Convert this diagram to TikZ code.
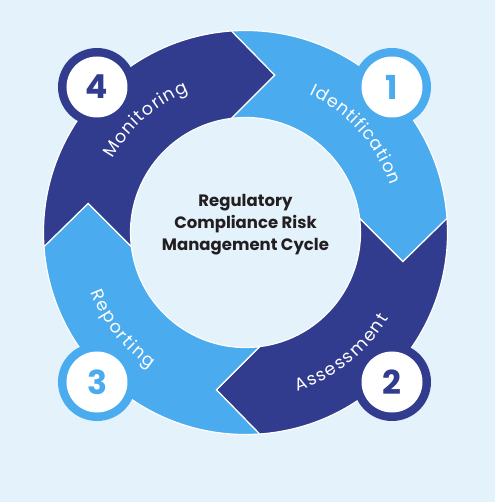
\documentclass[tikz,border=0pt]{standalone}
\usepackage{fontspec}
\setmainfont{Poppins}
\usetikzlibrary{positioning,decorations.text}
\definecolor{lightseg}{HTML}{4BABEF}
\definecolor{darkseg}{HTML}{323C8E}
\definecolor{paper}{HTML}{E3F2FB}
\definecolor{ink}{HTML}{231F20}
\newcommand{\segfont}{\fontsize{17.5}{20}\selectfont}
\tikzset{
    x=1pt,
    y=1pt,
    segment/.style = {
        draw=white,
        line width=1.2pt,
        line join=miter
    },
    numring/.style = {
        shape=circle,
        fill=#1,
        minimum size=78pt,
        inner sep=0pt
    },
    numdot/.style = {
        shape=circle,
        fill=white,
        text=#1,
        minimum size=61pt,
        inner sep=0pt,
        font=\fontsize{33}{33}\selectfont\bfseries
    },
    steptext/.style = {
        decorate,
        decoration={text along path, text align=fit to path,
            text color=white, text={|\segfont|#1}}
    },
    title/.style = {
        align=center,
        text=ink,
        font=\fontsize{16.5}{21.7}\selectfont\bfseries
    }
}

\begin{document}
\begin{tikzpicture}
    \fill[paper] (-245.5,-269.5) rectangle (249.5,232.5);
    \useasboundingbox (-245.5,-269.5) rectangle (249.5,232.5);

    % ring segments
    \path[segment, fill=lightseg] (94:202) arc[start angle=94, end angle=4, radius=202]
        -- (-10.5:160) -- (7:115) arc[start angle=7, end angle=97, radius=115]
        -- (79.5:160) -- cycle;
    \path[segment, fill=darkseg] (4:202) arc[start angle=4, end angle=-86, radius=202]
        -- (-100.5:160) -- (-83:115) arc[start angle=-83, end angle=7, radius=115]
        -- (-10.5:160) -- cycle;
    \path[segment, fill=lightseg] (-86:202) arc[start angle=-86, end angle=-176, radius=202]
        -- (-190.5:160) -- (-173:115) arc[start angle=-173, end angle=-83, radius=115]
        -- (-100.5:160) -- cycle;
    \path[segment, fill=darkseg] (-176:202) arc[start angle=-176, end angle=-266, radius=202]
        -- (-280.5:160) -- (-263:115) arc[start angle=-263, end angle=-173, radius=115]
        -- (-190.5:160) -- cycle;

    % labels along the ring
    \path[steptext=Identification] (65:152) arc[start angle=65, end angle=18, radius=152];
    \path[steptext=Assessment] (-72:167) arc[start angle=-72, end angle=-31, radius=167];
    \path[steptext=Reporting] (201:166) arc[start angle=201, end angle=235, radius=166];
    \path[steptext=Monitoring] (151:152) arc[start angle=151, end angle=112, radius=152];

    % step numbers
    \node[numring=lightseg] (ring1) at (146.5,145.5) {};
    \node[numdot=lightseg] (num1) at (ring1) {1};
    \node[numring=darkseg] (ring2) at (146.5,-149.5) {};
    \node[numdot=darkseg] (num2) at (ring2) {2};
    \node[numring=lightseg] (ring3) at (-148.5,-149.5) {};
    \node[numdot=lightseg] (num3) at (ring3) {3};
    \node[numring=darkseg] (ring4) at (-148.5,145.5) {};
    \node[numdot=darkseg] (num4) at (ring4) {4};

    \node[title] (title) at (0,8) {Regulatory\\Compliance Risk\\Management Cycle};
\end{tikzpicture}
\end{document}
